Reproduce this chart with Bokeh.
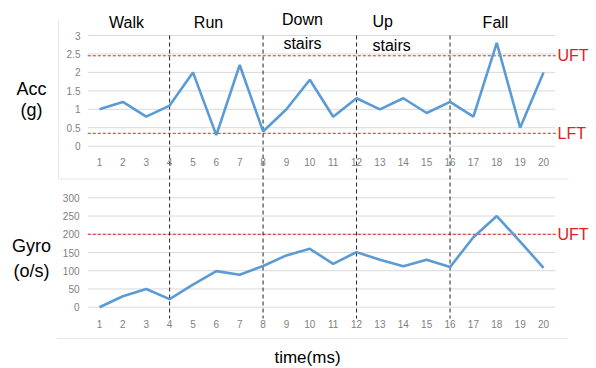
from bokeh.plotting import figure
from bokeh.models import Range1d
from bokeh.core.properties import value
from bokeh.embed import file_html
from bokeh.resources import INLINE

# ---------------- data ----------------
time_idx = list(range(1, 21))
acc = [1.0, 1.2, 0.8, 1.1, 2.0, 0.3, 2.2, 0.4, 1.0, 1.8,
       0.8, 1.3, 1.0, 1.3, 0.9, 1.2, 0.8, 2.8, 0.5, 2.0]
gyro = [0, 30, 50, 22, 62, 99, 89, 113, 142, 160,
        119, 151, 130, 112, 130, 110, 192, 250, 180, 108]
acc_ticks = [0, 0.5, 1, 1.5, 2, 2.5, 3]
acc_tick_labels = ["0", "0.5", "1", "1.5", "2", "2.5", "3"]
gyro_ticks = [0, 50, 100, 150, 200, 250, 300]
gyro_tick_labels = ["0", "50", "100", "150", "200", "250", "300"]
phase_bounds = [4, 8, 12, 16]
acc_uft, acc_lft = 2.45, 0.35
gyro_uft = 200

# ---------------- layout helpers ----------------
W, H = 596, 368
X_LO_PX, X_HI_PX = 87.3, 554.7          # pixel of x=0.5 and x=20.5
xs = (X_HI_PX - X_LO_PX) / 20.0


def x_of(px):
    return 0.5 + (px - X_LO_PX) / xs


def make_y(v0, px0, v1, px1):
    s = (px0 - px1) / (v1 - v0)
    start = v0 - (H - px0) / s
    end = v1 + px1 / s
    return start, end, (lambda px: v0 + (px0 - px) / s)


a_start, a_end, ya = make_y(0, 145.7, 3, 35.0)      # acc panel
g_start, g_end, yg = make_y(0, 306.7, 300, 197.3)   # gyro panel

p = figure(width=W, height=H, output_backend="svg", toolbar_location=None,
           x_range=Range1d(x_of(0), x_of(W)), y_range=Range1d(a_start, a_end),
           min_border=0, min_border_left=0, min_border_right=0,
           min_border_top=0, min_border_bottom=0)
p.extra_y_ranges = {"gyro": Range1d(g_start, g_end)}
p.axis.visible = False
p.grid.visible = False
p.outline_line_color = None
p.background_fill_color = "white"
p.border_fill_color = "white"

FONT = value("Liberation Sans")
GRID = "#D9D9D9"
BLUE = "#5B9BD5"
RED = "#E02020"
TICK = "#7F7F7F"

x_lo, x_hi = 0.5, 20.5
x_thr_hi = x_of(556)

# chart-area faint borders
p.segment(x0=[x_of(58), x_of(58)], y0=[ya(20), ya(178.5)], x1=[x_of(58), x_of(568)],
          y1=[ya(178.5), ya(178.5)], line_color="#E6E6E6", line_width=1)
p.segment(x0=[x_of(57)], y0=[yg(338)], x1=[x_of(567)], y1=[yg(338)],
          line_color="#E6E6E6", line_width=1, y_range_name="gyro")

# gridlines
p.segment(x0=[x_lo] * len(acc_ticks), x1=[x_hi] * len(acc_ticks),
          y0=acc_ticks, y1=acc_ticks, line_color=GRID, line_width=1)
p.segment(x0=[x_lo] * len(gyro_ticks), x1=[x_hi] * len(gyro_ticks),
          y0=gyro_ticks, y1=gyro_ticks, line_color=GRID, line_width=1,
          y_range_name="gyro")

# threshold lines
p.segment(x0=[x_lo, x_lo], x1=[x_thr_hi, x_thr_hi], y0=[acc_uft, acc_lft],
          y1=[acc_uft, acc_lft], line_color=RED, line_width=1, line_dash="3 2")
p.segment(x0=[x_lo], x1=[x_thr_hi], y0=[gyro_uft], y1=[gyro_uft],
          line_color=RED, line_width=1, line_dash="3 2", y_range_name="gyro")

# phase separators (span both panels)
nb = len(phase_bounds)
p.segment(x0=phase_bounds, x1=phase_bounds, y0=[acc_ticks[-1]] * nb,
          y1=[ya(318)] * nb, line_color="#222222", line_width=1, line_dash="4 3")

# data lines
p.line(time_idx, acc, line_color=BLUE, line_width=2.6)
p.line(time_idx, gyro, line_color=BLUE, line_width=2.6, y_range_name="gyro")

# x tick labels
lbls = [str(t) for t in time_idx]
p.text(x=time_idx, y=[ya(161.5)] * 20, text=lbls, text_font=FONT,
       text_font_size="10px", text_color=TICK, text_align="center",
       text_baseline="middle")
p.text(x=time_idx, y=[yg(323)] * 20, text=lbls, text_font=FONT,
       text_font_size="10px", text_color=TICK, text_align="center",
       text_baseline="middle", y_range_name="gyro")

# y tick labels
p.text(x=[x_of(80)] * len(acc_ticks), y=acc_ticks, text=acc_tick_labels,
       text_font=FONT, text_font_size="10px", text_color=TICK,
       text_align="right", text_baseline="middle")
p.text(x=[x_of(79)] * len(gyro_ticks), y=gyro_ticks, text=gyro_tick_labels,
       text_font=FONT, text_font_size="10px", text_color=TICK,
       text_align="right", text_baseline="middle", y_range_name="gyro")

# threshold labels
p.text(x=[x_of(557)] * 2, y=[acc_uft, acc_lft], text=["UFT", "LFT"],
       text_font=FONT, text_font_size="16px", text_color=RED,
       text_align="left", text_baseline="middle")
p.text(x=[x_of(557)], y=[gyro_uft], text=["UFT"], text_font=FONT,
       text_font_size="16px", text_color=RED, text_align="left",
       text_baseline="middle", y_range_name="gyro")

# phase labels
p.text(x=[x_of(126), x_of(208), x_of(302), x_of(302), x_of(495)],
       y=[ya(22), ya(22), ya(19), ya(43), ya(22)],
       text=["Walk", "Run", "Down", "stairs", "Fall"], text_font=FONT,
       text_font_size="16px", text_color="black", text_align="center",
       text_baseline="middle")
p.text(x=[x_of(372), x_of(372)], y=[ya(21), ya(45)], text=["Up", "stairs"],
       text_font=FONT, text_font_size="16px", text_color="black",
       text_align="left", text_baseline="middle")

# axis titles
p.text(x=[x_of(31), x_of(31)], y=[ya(88), ya(109)], text=["Acc", "(g)"],
       text_font=FONT, text_font_size="18px", text_color="black",
       text_align="center", text_baseline="middle")
p.text(x=[x_of(31), x_of(31)], y=[yg(245), yg(270)], text=["Gyro", "(o/s)"],
       text_font=FONT, text_font_size="18px", text_color="black",
       text_align="center", text_baseline="middle", y_range_name="gyro")
p.text(x=[x_of(307)], y=[yg(357)], text=["time(ms)"], text_font=FONT,
       text_font_size="17px", text_color="black", text_align="center",
       text_baseline="middle", y_range_name="gyro")

open("out.html", "w").write(file_html(p, INLINE))
